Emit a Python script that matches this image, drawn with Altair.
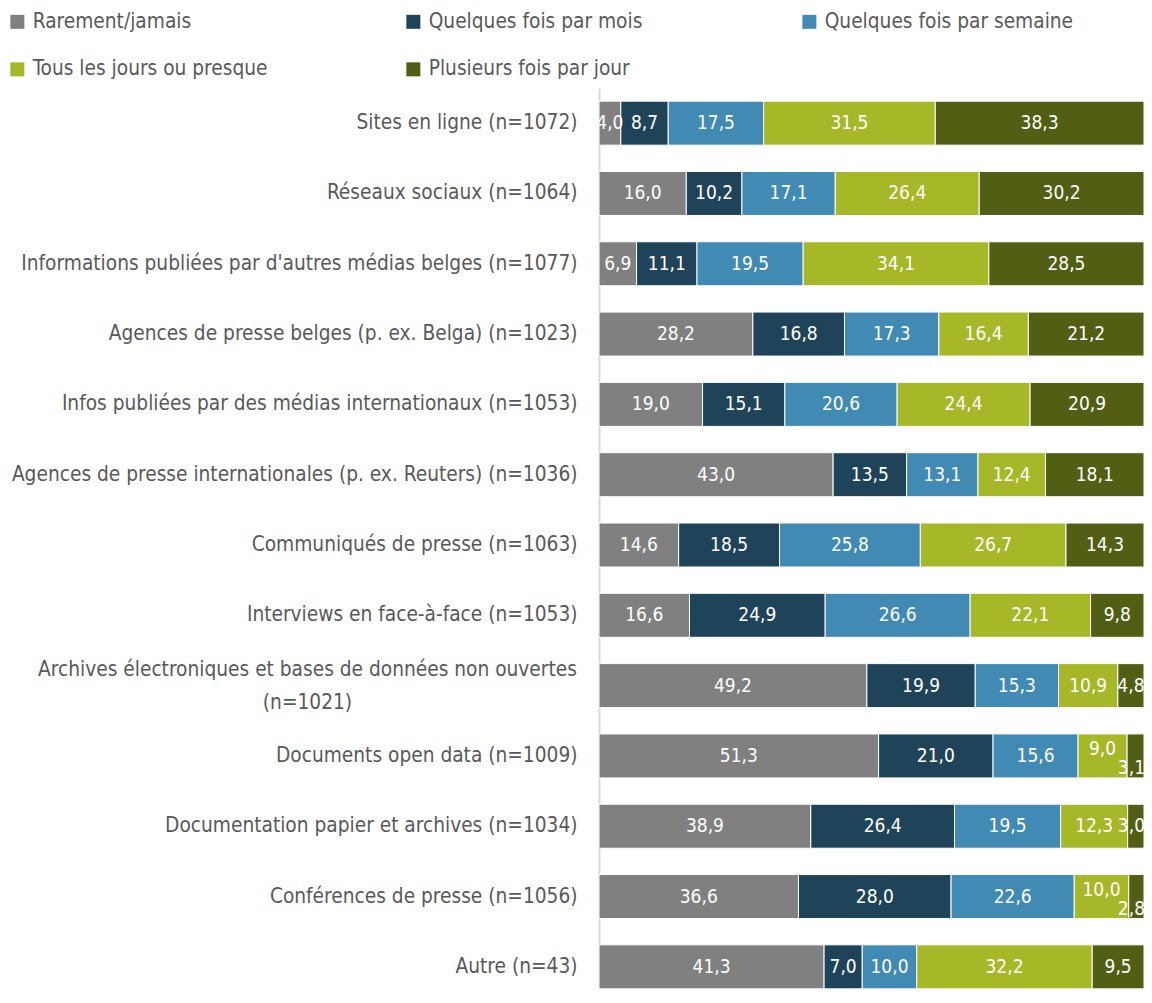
import altair as alt
import pandas as pd

FONT = "DejaVu Sans Condensed, Liberation Sans Narrow, Roboto"

categories = ["Rarement/jamais", "Quelques fois par mois", "Quelques fois par semaine",
              "Tous les jours ou presque", "Plusieurs fois par jour"]
colors = ["#808080", "#1f4459", "#418ab3", "#a6b727", "#515e14"]

sources = [
    "Sites en ligne (n=1072)",
    "Réseaux sociaux (n=1064)",
    "Informations publiées par d'autres médias belges (n=1077)",
    "Agences de presse belges (p. ex. Belga) (n=1023)",
    "Infos publiées par des médias internationaux (n=1053)",
    "Agences de presse internationales (p. ex. Reuters) (n=1036)",
    "Communiqués de presse (n=1063)",
    "Interviews en face-à-face (n=1053)",
    "Archives électroniques et bases de données non ouvertes\n(n=1021)",
    "Documents open data (n=1009)",
    "Documentation papier et archives (n=1034)",
    "Conférences de presse (n=1056)",
    "Autre (n=43)",
]

rarement = [4.0, 16.0, 6.9, 28.2, 19.0, 43.0, 14.6, 16.6, 49.2, 51.3, 38.9, 36.6, 41.3]
mois = [8.7, 10.2, 11.1, 16.8, 15.1, 13.5, 18.5, 24.9, 19.9, 21.0, 26.4, 28.0, 7.0]
semaine = [17.5, 17.1, 19.5, 17.3, 20.6, 13.1, 25.8, 26.6, 15.3, 15.6, 19.5, 22.6, 10.0]
jours = [31.5, 26.4, 34.1, 16.4, 24.4, 12.4, 26.7, 22.1, 10.9, 9.0, 12.3, 10.0, 32.2]
plusieurs = [38.3, 30.2, 28.5, 21.2, 20.9, 18.1, 14.3, 9.8, 4.8, 3.1, 3.0, 2.8, 9.5]

series = [rarement, mois, semaine, jours, plusieurs]
rows = []
for i, s in enumerate(sources):
    for j, cat in enumerate(categories):
        v = series[j][i]
        rows.append({"source": s, "categorie": cat, "ordre": j, "valeur": v,
                     "texte": f"{v:.1f}".replace(".", ",")})
df = pd.DataFrame(rows)

base = alt.Chart(df).transform_stack(
    stack="valeur", groupby=["source"], as_=["x0", "x1"], offset="normalize",
    sort=[alt.SortField("ordre")]
).transform_calculate(
    xm="min((datum.x0 + datum.x1) / 2, 0.977)",
    jv="datum.ordre == 3 ? datum.valeur : 0",
    pv="datum.ordre == 4 ? datum.valeur : 0",
).transform_joinaggregate(
    jv_s="sum(jv)", pv_s="sum(pv)", groupby=["source"]
).transform_calculate(
    collide="datum.pv_s < 4 && datum.jv_s < 11"
)

is_multi = "indexof(datum.value, 'Archives') >= 0"

y_enc = alt.Y(
    "source:N", sort=sources, title=None,
    scale=alt.Scale(range=[0, 914]),
    axis=alt.Axis(
        labelExpr="split(datum.label, '\\n')",
        labelFont=FONT, labelFontSize=20.7, labelColor="#595959",
        labelLimit=700, labelLineHeight=33,
        labelAlign={"condition": {"test": is_multi, "value": "center"}, "value": "right"},
        labelPadding={"condition": {"test": is_multi, "value": 292}, "value": 22},
        labelOffset={"condition": {"test": is_multi, "value": -16}, "value": 0},
        ticks=False, tickSize=0,
        domainColor="#d9d9d9", domainWidth=2,
    ),
)

bars = base.mark_bar(size=44, stroke="white", strokeWidth=1).encode(
    y=y_enc,
    x=alt.X("x0:Q", scale=alt.Scale(domain=[0, 1]), axis=None),
    x2="x1:Q",
    color=alt.Color(
        "categorie:N",
        scale=alt.Scale(domain=categories, range=colors),
        title=None,
        legend=alt.Legend(
            orient="none", legendX=-592, legendY=-77, direction="horizontal",
            columns=3, gridAlign="all", columnPadding=121, rowPadding=26,
            symbolType="square", symbolSize=196, symbolStrokeWidth=0,
            labelFont=FONT, labelFontSize=20.7, labelColor="#595959", labelOffset=5,
            labelLimit=400, padding=0,
        ),
    ),
)

text_y = alt.Y("source:N", sort=sources)
TXT = dict(color="white", fontSize=19, font=FONT)

text_normal = base.transform_filter(
    "!(datum.collide && datum.ordre >= 3)"
).mark_text(**TXT).encode(y=text_y, x=alt.X("xm:Q"), text="texte:N")

text_up = base.transform_filter(
    "datum.collide && datum.ordre == 3"
).mark_text(dy=-7, **TXT).encode(y=text_y, x=alt.X("xm:Q"), text="texte:N")

text_down = base.transform_filter(
    "datum.collide && datum.ordre == 4"
).mark_text(dy=12, **TXT).encode(y=text_y, x=alt.X("xm:Q"), text="texte:N")

chart = alt.layer(bars, text_normal, text_up, text_down).properties(
    width=545, height=901,
    autosize=alt.AutoSizeParams(type="none"),
    padding={"left": 591, "top": 80, "right": 0, "bottom": 0},
).configure_view(stroke=None)

chart.save("out.html", embed_options={"renderer": "svg", "actions": False})
